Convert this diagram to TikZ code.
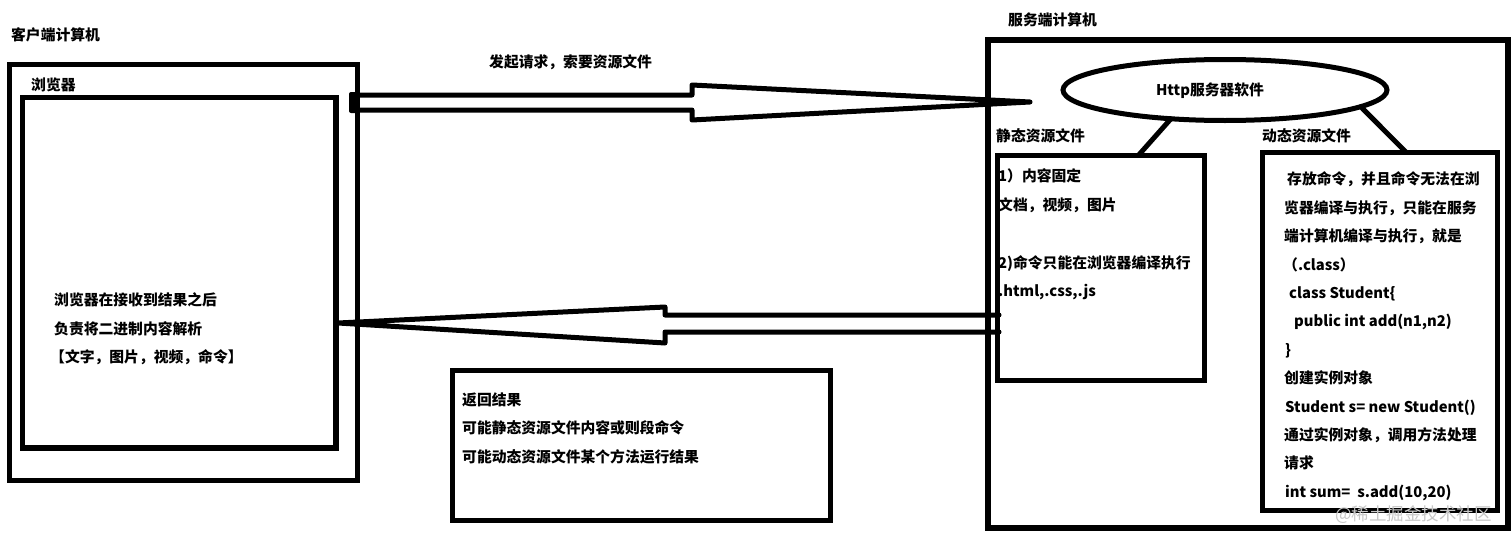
\documentclass[tikz,border=0pt]{standalone}
\usepackage{fontspec}
\setmainfont{Noto Sans CJK SC}
\usetikzlibrary{fit,calc,shapes.geometric}
\begin{document}
\begin{tikzpicture}[x=1pt,y=-1pt,
  box/.style={draw=black, line width=5pt, inner sep=0pt, outer sep=0pt},
  lbl/.style={anchor=west, inner sep=0pt, text height=0.88em, text depth=0.12em,
    font=\fontsize{14.8}{17}\selectfont\bfseries},
  link/.style={line width=5pt, line cap=round},
  arrowline/.style={line width=5pt, line join=round, line cap=round}]
\path[use as bounding box, fill=white] (0,0) rectangle (1512,538);

% ---------- client side ----------
\coordinate (c1) at (9.5,64.5);   \coordinate (c2) at (357.5,480);
\coordinate (b1) at (22.5,97.5);  \coordinate (b2) at (336,448);
\node[box, fit=(c1)(c2)] (client) {};
\node[box, line width=5.5pt, fit=(b1)(b2)] (browser) {};
\node[lbl] (clientlbl) at (11,37) {客户端计算机};
\node[lbl] (browserlbl) at (31,87) {浏览器};
\node[lbl] (bt1) at (54,302) {浏览器在接收到结果之后};
\node[lbl] (bt2) at (54,331) {负责将二进制内容解析};
\node[lbl] (bt3) at (50,359) {【文字，图片，视频，命令】};

% ---------- server side ----------
\coordinate (s1) at (987.5,40);    \coordinate (s2) at (1508,528);
\coordinate (st1) at (997.5,155.5); \coordinate (st2) at (1204.5,380.5);
\coordinate (dy1) at (1262.5,152);  \coordinate (dy2) at (1497.5,510);
\node[box, line width=6pt, fit=(s1)(s2)] (server) {};
\node[box, fit=(st1)(st2)] (static) {};
\node[box, fit=(dy1)(dy2)] (dynamic) {};
\node[lbl] (serverlbl) at (1008,22) {服务端计算机};
\node[box, ellipse, minimum width=324pt, minimum height=61pt] (http) at (1225,90) {};
\node[lbl, anchor=center] (httplbl) at (1210,92) {Http服务器软件};
\draw[link] (http.208) -- ($(static.north west)!0.68!(static.north east)$);
\draw[link] (http.-7) -- ($(dynamic.north west)!0.61!(dynamic.north east)$);
\node[lbl] (staticlbl) at (996,138) {静态资源文件};
\node[lbl] (dynamiclbl) at (1262,138) {动态资源文件};

\node[lbl] (st1t) at (998,178) {1）内容固定};
\node[lbl] (st2t) at (998,207) {文档，视频，图片};
\node[lbl] (st3t) at (998,265) {2)命令只能在浏览器编译执行};
\node[lbl] (st4t) at (998,293) {.html,.css,.js};

\node[lbl] (d1)  at (1287,181)   {存放命令，并且命令无法在浏};
\node[lbl] (d2)  at (1284,209.4) {览器编译与执行，只能在服务};
\node[lbl] (d3)  at (1284,237.8) {端计算机编译与执行，就是};
\node[lbl] (d4)  at (1283,266.2) {（.class）};
\node[lbl] (d5)  at (1289,294.6) {class Student\{};
\node[lbl] (d6)  at (1294,323)   {public int add(n1,n2)};
\node[lbl] (d7)  at (1285,351.4) {\}};
\node[lbl] (d8)  at (1284,379.8) {创建实例对象};
\node[lbl] (d9)  at (1285,408.2) {Student s= new Student()};
\node[lbl] (d10) at (1284,436.6) {通过实例对象，调用方法处理};
\node[lbl] (d11) at (1284,465)   {请求};
\node[lbl] (d12) at (1285,493.4) {int sum=\ \ s.add(10,20)};

% ---------- result box ----------
\coordinate (r1) at (452.5,370.5); \coordinate (r2) at (830.5,520.5);
\node[box, fit=(r1)(r2)] (result) {};
\node[lbl] (rt1) at (462,401.7) {返回结果};
\node[lbl] (rt2) at (462,430)   {可能静态资源文件内容或则段命令};
\node[lbl] (rt3) at (462,458.3) {可能动态资源文件某个方法运行结果};

% ---------- arrows ----------
\coordinate (a1) at (352,95);  \coordinate (a2) at (692,95);  \coordinate (a3) at (692,85);
\coordinate (atip) at (1030,102);
\coordinate (a5) at (692,120); \coordinate (a6) at (692,110); \coordinate (a7) at (352,110);
\draw[arrowline] (a1) -- (a2) -- (a3) -- (atip) -- (a5) -- (a6) -- (a7);
\fill[rounded corners=2pt] (349,92) rectangle (358,113);
\node[lbl] (reqlbl) at (489,64) {发起请求，索要资源文件};

\coordinate (e1) at (999,315); \coordinate (e2) at (665,315); \coordinate (e3) at (665,307);
\coordinate (etip) at (338,323);
\coordinate (e5) at (665,343); \coordinate (e6) at (665,332); \coordinate (e7) at (999,332);
\draw[arrowline] (e1) -- (e2) -- (e3) -- (etip) -- (e5) -- (e6) -- (e7);

% ---------- watermark ----------
\node[anchor=west, inner sep=0pt, text=black!22, font=\fontsize{17.5}{20}\selectfont] (wm) at (1335,515) {@稀土掘金技术社区};
\end{tikzpicture}
\end{document}
